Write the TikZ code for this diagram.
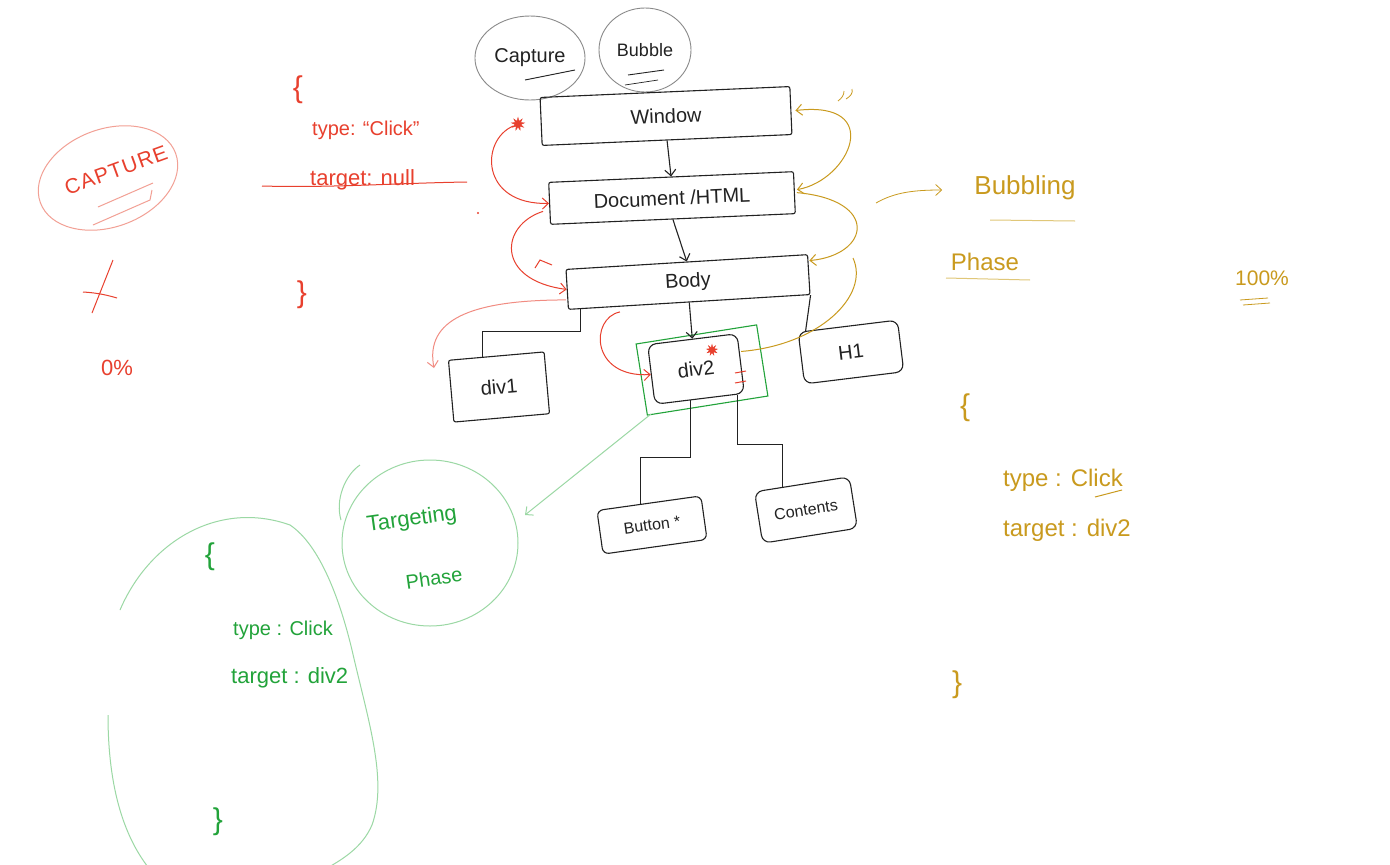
\documentclass[tikz,border=0pt]{standalone}
\usepackage{fontspec}
\setmainfont{Liberation Sans}
\usetikzlibrary{arrows.meta,shapes.geometric,calc}
\definecolor{pen}{HTML}{222222}
\definecolor{redp}{HTML}{E8402E}
\definecolor{redl}{HTML}{F2A095}
\definecolor{gold}{HTML}{C99A1E}
\definecolor{goldl}{HTML}{E0C778}
\definecolor{grn}{HTML}{22A33A}
\definecolor{grnl}{HTML}{9BD8A4}
\definecolor{circ}{HTML}{8A8A8A}
\newcommand{\fsz}[1]{\fontsize{#1}{#1}\selectfont}
\tikzset{
  box/.style={draw=pen, line width=1.1pt, rounded corners=2pt, inner sep=0pt, font=\fsz{20}, text=pen},
  conn/.style={draw=pen, line width=1.1pt},
  darr/.style={conn, -{Straight Barb[length=6pt,width=11pt]}},
  barb/.style={-{Straight Barb[length=6pt,width=11pt]}},
  redpen/.style={draw=redp, line width=1pt},
  goldpen/.style={draw=gold, line width=1pt},
  grnpen/.style={draw=grn, line width=1pt},
  redtxt/.style={text=redp, inner sep=0pt},
  goldtxt/.style={text=gold, inner sep=0pt},
  grntxt/.style={text=grn, inner sep=0pt},
  blot/.style={star, star points=9, star point ratio=2.2, fill=redp, draw=redp, inner sep=0pt, minimum size=13pt},
}
\begin{document}
\begin{tikzpicture}[x=1pt,y=-1pt]
\useasboundingbox (0,0) rectangle (1390,865);
\fill[white] (0,0) rectangle (1390,865);
\begin{scope}
\clip (0,0) rectangle (1390,865);

% ---------- header circles ----------
\node[draw=circ, line width=0.9pt, ellipse, minimum width=102pt, minimum height=84pt, font=\fsz{20}, text=pen] (cap) at (530,58) {Capture};
\node[draw=circ, line width=0.9pt, ellipse, minimum width=92pt, minimum height=84pt, font=\fsz{18}, text=pen] (bub) at (645,50) {Bubble};
\draw[conn, line width=0.9pt] ($(cap.center)+(-5,22)$) -- ++(50,-10);
\draw[conn, line width=0.9pt] ($(bub.center)+(-17,25)$) -- ++(36,-5);
\draw[conn, line width=0.7pt] ($(bub.center)+(-20,35)$) -- ++(33,-5);

% ---------- DOM boxes ----------
\node[box, minimum width=250pt, minimum height=48pt, rotate=2.5] (win) at (666,116) {Window};
\node[box, minimum width=245pt, minimum height=42pt, rotate=2.5] (doc) at (672,198) {Document /HTML};
\node[box, minimum width=242pt, minimum height=40pt, rotate=3.5] (body) at (688,282) {Body};
\node[box, minimum width=96pt, minimum height=62pt, rotate=5] (div1) at (499,387) {div1};
\node[box, minimum width=90pt, minimum height=60pt, rotate=7, rounded corners=8pt] (div2) at (696,369) {div2};
\draw[draw=grn, line width=1.1pt, rotate around={9:(702,370)}] (641,334) rectangle (763,406);
\node[box, minimum width=100pt, minimum height=52pt, rotate=7, rounded corners=8pt] (h1) at (851,352) {H1};
\node[box, minimum width=105pt, minimum height=44pt, rotate=8, rounded corners=6pt, font=\fsz{16}] (btn) at (652,525) {Button *};
\node[box, minimum width=96pt, minimum height=52pt, rotate=9, rounded corners=8pt, font=\fsz{16}] (cont) at (806,510) {Contents};

% ---------- black connectors ----------
\draw[darr] (win.south) -- (doc.north);
\draw[darr] (doc.south) -- (body.north);
\draw[darr] (body.south) -- (div2.north);
\draw[conn] ($(body.south west)!0.05!(body.south east)$) -- ++(0,22) -| ($(div1.north west)!0.36!(div1.north east)$);
\draw[conn] (body.south east) -- ($(h1.north west)!0.08!(h1.north east)$);
\draw[conn] ($(div2.south west)!0.4!(div2.south east)$) -- ++(0,57) -| ($(btn.north west)!0.42!(btn.north east)$);
\draw[conn] ($(div2.south west)!0.92!(div2.south east)$) -- ++(0,50) -| ($(cont.north west)!0.3!(cont.north east)$);

% ---------- red capture arrows ----------
\node[blot] (star1) at (518,124) {};
\node[blot, minimum size=11pt] (star2) at (712,350) {};
\draw[redpen, barb] (star1) .. controls (480,140) and (480,205) .. (doc.west);
\draw[redpen, barb] ($(doc.west)+(-6,8)$) .. controls (500,225) and (495,280) .. (body.west);
\draw[redpen] (535,268) -- (540,260) -- (552,265);
\draw[draw=redp!60, line width=1pt, barb] ($(body.south west)+(-2,-10)$) .. controls (470,300) and (425,320) .. (434,368);
\draw[redpen, barb] ($(body.south west)+(52,2)$) .. controls (590,318) and (590,378) .. (div2.west);
\draw[redpen] (735,373) -- (746,371);
\draw[redpen] (735,383) -- (746,381);
\fill[redp] (478,213) circle (1.2);

% ---------- gold bubbling arrows ----------
\draw[goldpen] ($(div2.east)+(0,-12)$) .. controls (820,345) and (870,295) .. (853,258);
\draw[goldpen, barb] ($(doc.east)+(2,0)$) .. controls (880,200) and (870,255) .. ($(body.east)+(0,-14)$);
\draw[goldpen, {Straight Barb[length=6pt,width=11pt]}-{Straight Barb[length=6pt,width=11pt]}] ($(doc.east)+(2,-3)$) .. controls (850,180) and (885,100) .. ($(win.east)+(4,0)$);
\draw[goldpen, line width=0.8pt] (838,101) .. controls (842,98) and (844,95) .. (844,91);
\draw[goldpen, line width=0.8pt] (846,99) .. controls (851,96) and (853,93) .. (852,89);
\node[goldtxt, font=\fsz{26}] (bubbling) at (1025,188) {Bubbling};
\node[goldtxt, font=\fsz{24}] (phase) at (985,262) {Phase};
\draw[goldpen, line width=0.8pt, barb] (876,203) .. controls (895,192) and (915,190) .. ($(bubbling.west)+(-32,2)$);
\draw[draw=goldl, line width=1pt] (990,220) -- (1075,221);
\draw[draw=goldl, line width=1pt] (946,278) -- (1030,280);
\node[goldtxt, font=\fsz{21}] (pct) at (1262,278) {100\%};
\draw[goldpen, line width=0.8pt] (1240,300) -- (1268,298);
\draw[goldpen, line width=0.8pt] (1243,305) -- (1270,303);
\node[goldtxt, font=\fsz{30}] (gob) at (965,408) {\{};
\node[goldtxt, font=\fsz{24}, anchor=west] (gtype) at (1003,480) {type : Click};
\draw[goldpen] (1095,497) -- (1122,490);
\node[goldtxt, font=\fsz{24}, anchor=west] (gtarget) at (1003,530) {target : div2};
\node[goldtxt, font=\fsz{30}] (gcb) at (957,685) {\}};

% ---------- red event object ----------
\node[redtxt, font=\fsz{30}] (rob) at (298,90) {\{};
\node[redtxt, font=\fsz{20}, anchor=west] (rtype) at (312,130) {type: “Click”};
\node[redtxt, font=\fsz{22}, anchor=west] (rtarget) at (310,180) {target: null};
\draw[redpen] (262,186) .. controls (330,188) and (400,183) .. (467,182);
\node[redtxt, font=\fsz{30}] (rcb) at (302,295) {\}};

% ---------- CAPTURE 0% ----------
\draw[draw=redl, line width=1pt, rotate around={20:(108,178)}] (108,178) ellipse [x radius=72, y radius=49];
\node[redtxt, font=\fsz{21}\addfontfeature{LetterSpace=6}, rotate=20] (captxt) at (116,170) {CAPTURE};
\draw[draw=redl, line width=1pt] (98,207) -- (153,183);
\draw[draw=redl, line width=1pt] (93,225) -- (150,200) -- (152,190);
\draw[redpen] (113,260) -- (92,313);
\draw[redpen] (83,292) .. controls (100,293) and (110,296) .. (117,298);
\node[redtxt, font=\fsz{22}] (zero) at (117,368) {0\%};

% ---------- green targeting ----------
\draw[draw=grnl, line width=1pt, barb] (651,414) -- (525,515);
\draw[draw=grnl, line width=1pt] (430,543) ellipse [x radius=88, y radius=83];
\draw[draw=grnl, line width=1pt] (360,465) .. controls (345,475) and (335,500) .. (341,520);
\node[grntxt, font=\fsz{22}, rotate=8] (targeting) at (412,520) {Targeting};
\node[grntxt, font=\fsz{20}, rotate=8] (tphase) at (434,578) {Phase};
\draw[draw=grnl, line width=1pt] (120,610) .. controls (150,540) and (220,500) .. (290,525)
  .. controls (320,545) and (340,600) .. (352,650)
  .. controls (368,720) and (388,780) .. (372,825)
  .. controls (362,848) and (342,860) .. (320,872);
\draw[draw=grnl, line width=1pt] (108,715) .. controls (108,790) and (125,840) .. (152,872);
\node[grntxt, font=\fsz{30}] (gob2) at (210,557) {\{};
\node[grntxt, font=\fsz{20}, anchor=west] (grtype) at (233,630) {type : Click};
\node[grntxt, font=\fsz{22}, anchor=west] (grtarget) at (231,678) {target : div2};
\node[grntxt, font=\fsz{30}] (gcb2) at (218,822) {\}};
\end{scope}
\end{tikzpicture}
\end{document}
